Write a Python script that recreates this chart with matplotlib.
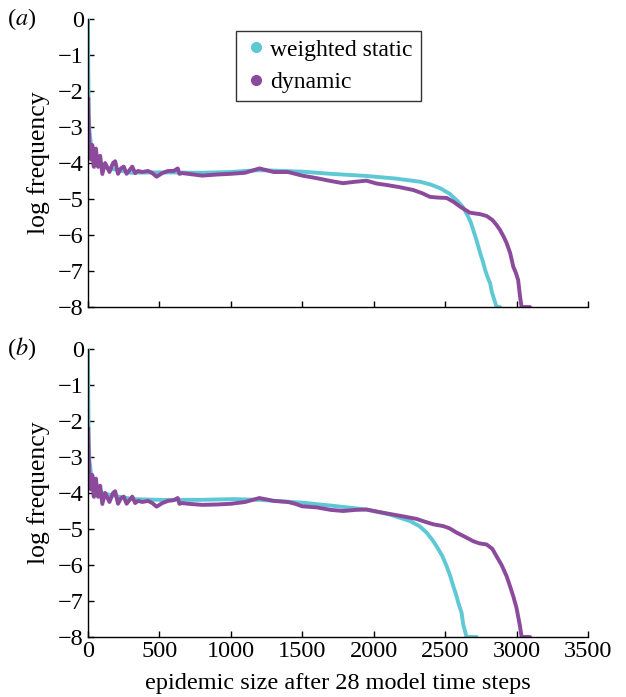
import matplotlib

matplotlib.use("Agg")
import matplotlib.pyplot as plt
from matplotlib.lines import Line2D

plt.rcParams["font.family"] = ["Liberation Serif", "DejaVu Serif"]
plt.rcParams["mathtext.fontset"] = "stix"

CYAN = "#5ec8d5"
PURPLE = "#8b4a9c"

# values: epidemic size vs log frequency
start_x = [1, 5, 10, 20, 30, 40, 55, 70, 85, 100, 120, 150, 175, 190, 210, 230, 250, 270,
           290, 310, 330, 350, 380, 420, 450, 480, 520, 560, 600, 628, 640, 660, 700, 800,
           900, 1000, 1100, 1200, 1300, 1400, 1450, 1500]
start_dyn_a = [-2.2, -3.0, -3.5, -3.9, -3.5, -4.1, -3.6, -4.1, -3.8, -4.3, -4.0, -4.25, -4.0,
               -3.95, -4.3, -4.15, -4.1, -4.3, -4.2, -4.1, -4.28, -4.22, -4.25, -4.22, -4.28,
               -4.38, -4.28, -4.22, -4.22, -4.15, -4.3, -4.28, -4.3, -4.35, -4.32, -4.3,
               -4.27, -4.15, -4.25, -4.25, -4.3, -4.35]
start_dyn_b = [-2.2, -3.0, -3.5, -3.9, -3.5, -4.1, -3.6, -4.1, -3.8, -4.3, -4.0, -4.25, -4.0,
               -3.95, -4.3, -4.15, -4.1, -4.3, -4.2, -4.1, -4.28, -4.22, -4.25, -4.22, -4.28,
               -4.38, -4.28, -4.22, -4.2, -4.14, -4.3, -4.28, -4.3, -4.33, -4.32, -4.3,
               -4.25, -4.14, -4.22, -4.25, -4.3, -4.37]

static_a_x = [0, 2, 5, 10, 20, 35, 60, 100, 150, 200, 300, 500, 800, 1000, 1100, 1200, 1300,
              1500, 1700, 1950, 2150, 2325, 2400, 2465, 2530, 2580, 2620, 2650, 2680, 2700,
              2720, 2745, 2765, 2780, 2800, 2815, 2826, 2840, 2860, 2884]
static_a_y = [0, -1.5, -2.6, -3.1, -3.45, -3.65, -3.85, -4.05, -4.15, -4.19, -4.27, -4.26,
              -4.27, -4.25, -4.22, -4.2, -4.21, -4.24, -4.3, -4.36, -4.43, -4.52, -4.6, -4.7,
              -4.85, -5.03, -5.2, -5.4, -5.65, -5.9, -6.15, -6.5, -6.75, -6.97, -7.2, -7.34,
              -7.57, -7.75, -8, -8]

dyn_a_tail_x = [1600, 1700, 1785, 1870, 1950, 2020, 2090, 2180, 2277, 2340, 2394, 2450, 2510,
                2560, 2604, 2674, 2744, 2790, 2830, 2860, 2884, 2910, 2930, 2955, 2977, 2995,
                3011, 3024, 3035, 3094]
dyn_a_tail_y = [-4.42, -4.5, -4.56, -4.52, -4.49, -4.57, -4.61, -4.67, -4.75, -4.84, -4.94,
                -4.96, -4.97, -5.08, -5.21, -5.38, -5.42, -5.47, -5.58, -5.72, -5.86, -6.05,
                -6.22, -6.5, -6.88, -7.05, -7.25, -7.7, -8, -8]

static_b_x = [0, 2, 5, 10, 20, 35, 60, 100, 150, 200, 315, 500, 800, 1015, 1200, 1350, 1500,
              1700, 1950, 2114, 2254, 2320, 2370, 2410, 2440, 2480, 2510, 2535, 2557, 2575,
              2592, 2615, 2627, 2640, 2650, 2720]
static_b_y = [0, -1.5, -2.6, -3.1, -3.44, -3.62, -3.81, -4.0, -4.05, -4.09, -4.17, -4.19,
              -4.19, -4.17, -4.19, -4.23, -4.27, -4.35, -4.46, -4.6, -4.78, -4.92, -5.1, -5.3,
              -5.48, -5.75, -6.03, -6.3, -6.59, -6.8, -7.05, -7.33, -7.66, -7.85, -8, -8]

dyn_b_tail_x = [1600, 1700, 1787, 1870, 1950, 2040, 2137, 2220, 2300, 2360, 2417, 2487, 2530,
                2580, 2640, 2697, 2740, 2790, 2830, 2860, 2895, 2930, 2955, 2977, 3000, 3012,
                3024, 3035, 3094]
dyn_b_tail_y = [-4.4, -4.47, -4.5, -4.47, -4.46, -4.53, -4.6, -4.66, -4.72, -4.8, -4.87,
                -4.92, -4.98, -5.1, -5.22, -5.34, -5.4, -5.43, -5.55, -5.76, -6.0, -6.31,
                -6.6, -6.87, -7.2, -7.45, -7.7, -8, -8]

panels = [
    ("a", static_a_x, static_a_y, start_x + dyn_a_tail_x, start_dyn_a + dyn_a_tail_y),
    ("b", static_b_x, static_b_y, start_x + dyn_b_tail_x, start_dyn_b + dyn_b_tail_y),
]

FS = 17.5
fig = plt.figure(figsize=(6.26, 6.97), dpi=100)
ax_boxes = [[0.1406, 0.5595, 0.7987, 0.4132], [0.1406, 0.0861, 0.7987, 0.4132]]

for (tag, sx, sy, dx, dy), box in zip(panels, ax_boxes):
    ax = fig.add_axes(box)
    ax.plot(sx, sy, color=CYAN, lw=2.8, solid_capstyle="round")
    ax.plot(dx, dy, color=PURPLE, lw=2.8, solid_capstyle="round")
    # faint scatter at the noisy head of the dynamic curve
    ax.plot(dx[:10], dy[:10], "o", color=PURPLE, ms=2.5, alpha=0.4, mec="none")
    ax.set_xlim(0, 3500)
    ax.set_ylim(-8, 0)
    ax.set_xticks(range(0, 3501, 500))
    ax.set_yticks(range(-8, 1))
    ax.spines["top"].set_visible(False)
    ax.spines["right"].set_visible(False)
    for side in ("left", "bottom"):
        ax.spines[side].set_linewidth(1.0)
    ax.tick_params(direction="in", length=4, width=1.0, labelsize=FS, pad=3)
    ax.set_ylabel("log frequency", fontsize=FS + 1, labelpad=6)
    fig.text(0.035, box[1] + box[3], rf"($\it{{{tag}}}$)", fontsize=FS, ha="center", va="center")
    if tag == "a":
        ax.tick_params(labelbottom=False)
        handles = [
            Line2D([], [], ls="none", marker="o", ms=7, color=CYAN, label="weighted static"),
            Line2D([], [], ls="none", marker="o", ms=7, color=PURPLE, label="dynamic"),
        ]
        ax.legend(handles=handles, loc="upper center", bbox_to_anchor=(0.48, 1.0),
                  fontsize=17, frameon=True, fancybox=False, edgecolor="black",
                  handletextpad=0.1, handlelength=1.0, borderpad=0.35, labelspacing=0.45)
    else:
        ax.set_xlabel("epidemic size after 28 model time steps", fontsize=FS, labelpad=8)

fig.savefig("out.png", dpi=100)
